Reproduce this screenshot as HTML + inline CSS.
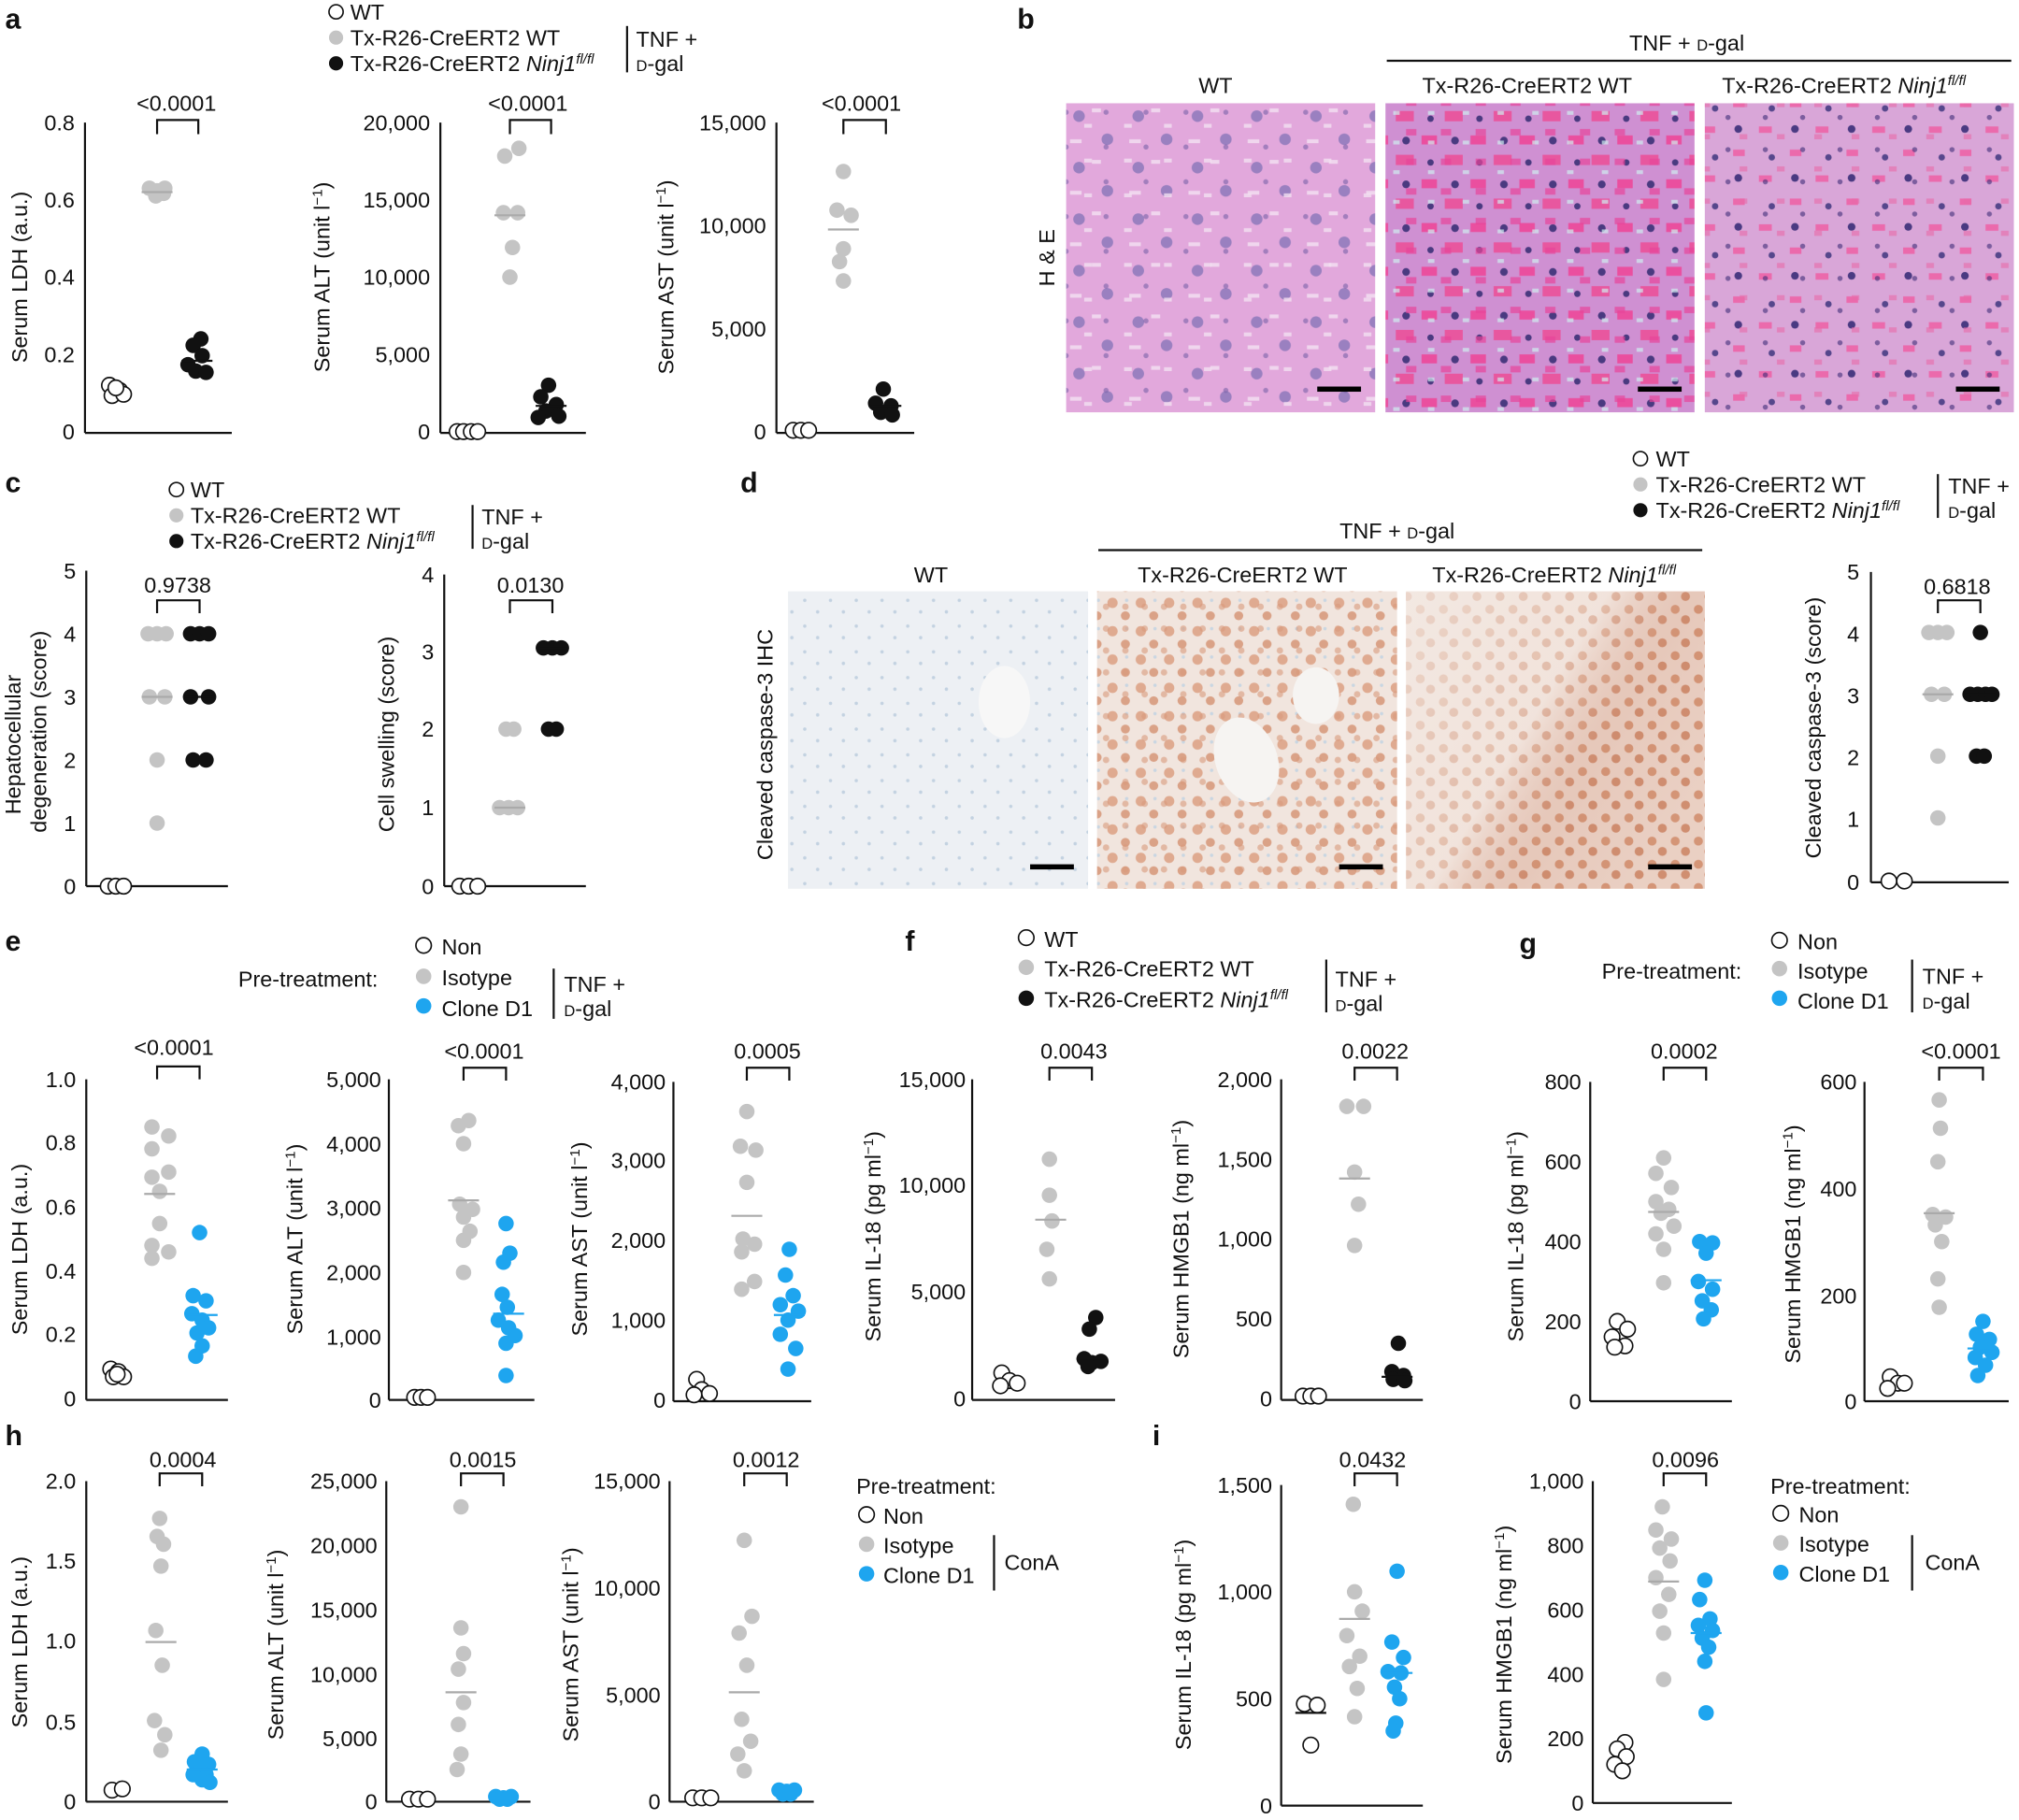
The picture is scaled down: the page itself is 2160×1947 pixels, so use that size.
<!DOCTYPE html>
<html><head><meta charset="utf-8"><style>
html,body{margin:0;padding:0;background:#fff}
svg{display:block}
text{font-family:"Liberation Sans",Arial,sans-serif;fill:#111}
.t{font-size:17px}
.l{font-size:17px}
.p{font-size:17px}
.b{font-size:22px;font-weight:bold}
.ax{stroke:#111;stroke-width:1.6;fill:none}
.o{fill:#fff;stroke:#111;stroke-width:1.2}
.g{fill:#c4c4c4}
.k{fill:#111}
.u{fill:#1ea5ef}
.mg{stroke:#aaa;stroke-width:1.6}
.mk{stroke:#111;stroke-width:1.6}
.mu{stroke:#1ea5ef;stroke-width:1.6}
.sm{font-size:12px}
</style></head><body>
<svg width="2160" height="1947" viewBox="0 0 1568 1413" xmlns="http://www.w3.org/2000/svg">
<defs>
<pattern id="he1" width="46" height="40" patternUnits="userSpaceOnUse">
<rect width="46" height="40" fill="#e2a8dc"/>
<circle cx="10" cy="10" r="4.5" fill="#9a80c0"/><circle cx="32" cy="28" r="4.5" fill="#9a80c0"/>
<rect x="20" y="4" width="7" height="3" fill="#f0d6ee"/><rect x="3" y="28" width="9" height="3" fill="#f0d6ee"/>
</pattern>
<pattern id="he1b" width="31" height="27" patternUnits="userSpaceOnUse">
<rect x="5" y="15" width="6" height="3" fill="#f3e0f1" opacity="0.8"/><circle cx="22" cy="6" r="2" fill="#7a62a8" opacity="0.6"/>
</pattern>
<pattern id="he2" width="38" height="34" patternUnits="userSpaceOnUse">
<rect width="38" height="34" fill="#cf90d2"/>
<rect x="2" y="3" width="12" height="7" fill="#ea4f9f"/><rect x="20" y="18" width="14" height="8" fill="#e8579f"/>
<circle cx="28" cy="7" r="3" fill="#4a3a80"/><circle cx="9" cy="24" r="2.5" fill="#4a3a80"/>
</pattern>
<pattern id="he2b" width="27" height="23" patternUnits="userSpaceOnUse">
<rect x="12" y="8" width="8" height="5" fill="#e8449a" opacity="0.7"/><rect x="2" y="17" width="5" height="3" fill="#cfeef0" opacity="0.7"/>
</pattern>
<pattern id="he3" width="44" height="38" patternUnits="userSpaceOnUse">
<rect width="44" height="38" fill="#d9a6d8"/>
<rect x="2" y="22" width="10" height="5" fill="#eb6aac"/><rect x="26" y="2" width="9" height="5" fill="#eb6aac"/>
<circle cx="30" cy="24" r="3" fill="#4a3a82"/><circle cx="12" cy="8" r="2.5" fill="#56478c"/>
</pattern>
<pattern id="he3b" width="29" height="25" patternUnits="userSpaceOnUse">
<circle cx="8" cy="16" r="2" fill="#3d2d78" opacity="0.6"/><rect x="17" y="4" width="6" height="4" fill="#e86aa8" opacity="0.6"/>
</pattern>
<pattern id="c1" width="20" height="20" patternUnits="userSpaceOnUse">
<rect width="20" height="20" fill="#edf0f4"/><circle cx="5" cy="6" r="1.3" fill="#c3d2e1"/><circle cx="15" cy="15" r="1.3" fill="#c3d2e1"/>
</pattern>
<pattern id="c2" width="22" height="22" patternUnits="userSpaceOnUse">
<rect width="22" height="22" fill="#f1e5de"/><circle cx="6" cy="6" r="4" fill="#dca083" opacity="0.85"/><circle cx="16" cy="16" r="3.5" fill="#d69678" opacity="0.85"/><circle cx="17" cy="4" r="1.3" fill="#c9d6e2"/>
</pattern>
<pattern id="c2b" width="15" height="17" patternUnits="userSpaceOnUse">
<circle cx="4" cy="12" r="2.5" fill="#d89a7c" opacity="0.6"/>
</pattern>
<pattern id="c3" width="18" height="18" patternUnits="userSpaceOnUse">
<rect width="18" height="18" fill="#efdcd2"/><circle cx="5" cy="5" r="3.5" fill="#d3906e" opacity="0.85"/><circle cx="13" cy="13" r="3.5" fill="#cd8666" opacity="0.85"/>
</pattern>
<linearGradient id="dk" x1="0" y1="0" x2="1" y2="0.6">
<stop offset="0" stop-color="#f4ece7" stop-opacity="0.75"/>
<stop offset="0.5" stop-color="#f4ece7" stop-opacity="0.45"/>
<stop offset="0.75" stop-color="#b8603e" stop-opacity="0.15"/>
<stop offset="1" stop-color="#b8603e" stop-opacity="0.1"/>
</linearGradient>
</defs>

<!-- Panel labels -->
<text class="b" x="4" y="22">a</text>
<text class="b" x="790" y="22">b</text>
<text class="b" x="4" y="382">c</text>
<text class="b" x="575" y="382">d</text>
<text class="b" x="4" y="738">e</text>
<text class="b" x="703" y="738">f</text>
<text class="b" x="1180" y="740">g</text>
<text class="b" x="4" y="1122">h</text>
<text class="b" x="895" y="1122">i</text>

<!-- Legend a -->
<circle class="o" cx="261" cy="9" r="5.5"/><text class="l" x="272" y="15">WT</text>
<circle class="g" cx="261" cy="29" r="5.5"/><text class="l" x="272" y="35">Tx-R26-CreERT2 WT</text>
<circle class="k" cx="261" cy="49" r="5.5"/><text class="l" x="272" y="55">Tx-R26-CreERT2 <tspan font-style="italic">Ninj1</tspan><tspan font-style="italic" font-size="11" dy="-6">fl/fl</tspan></text>
<line class="ax" x1="487" y1="20" x2="487" y2="56"/>
<text class="l" x="494" y="36">TNF +</text><text class="l" x="494" y="55"><tspan class="sm">D</tspan>-gal</text>

<!-- a1 -->
<g>
<line class="ax" x1="66" y1="95" x2="66" y2="336"/><line class="ax" x1="66" y1="336" x2="180" y2="336"/>
<text class="t" x="58" y="101" text-anchor="end">0.8</text><text class="t" x="58" y="161" text-anchor="end">0.6</text><text class="t" x="58" y="221" text-anchor="end">0.4</text><text class="t" x="58" y="281" text-anchor="end">0.2</text><text class="t" x="58" y="341" text-anchor="end">0</text>
<text class="l" transform="translate(21,215) rotate(-90)" text-anchor="middle">Serum LDH (a.u.)</text>
<path class="ax" d="M122,104 V93 H154 V104"/><text class="p" x="137" y="86" text-anchor="middle">&lt;0.0001</text>
<circle class="o" cx="85" cy="299" r="6"/><circle class="o" cx="93" cy="303" r="6"/><circle class="o" cx="87" cy="307" r="6"/><circle class="o" cx="96" cy="306" r="6"/><circle class="o" cx="90" cy="301" r="6"/>
<circle class="g" cx="116" cy="146" r="6"/><circle class="g" cx="122" cy="148" r="6"/><circle class="g" cx="127" cy="150" r="6"/><circle class="g" cx="121" cy="152" r="6"/><circle class="g" cx="128" cy="146" r="6"/>
<line class="mg" x1="110" y1="149" x2="134" y2="149"/>
<circle class="k" cx="156" cy="263" r="6"/><circle class="k" cx="150" cy="268" r="6"/><circle class="k" cx="157" cy="276" r="6"/><circle class="k" cx="146" cy="283" r="6"/><circle class="k" cx="152" cy="288" r="6"/><circle class="k" cx="160" cy="289" r="6"/>
<line class="mk" x1="141" y1="280" x2="165" y2="280"/>
</g>

<!-- a2 -->
<g>
<line class="ax" x1="342" y1="95" x2="342" y2="336"/><line class="ax" x1="342" y1="336" x2="455" y2="336"/>
<text class="t" x="334" y="101" text-anchor="end">20,000</text><text class="t" x="334" y="161" text-anchor="end">15,000</text><text class="t" x="334" y="221" text-anchor="end">10,000</text><text class="t" x="334" y="281" text-anchor="end">5,000</text><text class="t" x="334" y="341" text-anchor="end">0</text>
<text class="l" transform="translate(256,215) rotate(-90)" text-anchor="middle">Serum ALT (unit l<tspan font-size="11" dy="-6">−1</tspan><tspan dy="6">)</tspan></text>
<path class="ax" d="M396,104 V93 H428 V104"/><text class="p" x="410" y="86" text-anchor="middle">&lt;0.0001</text>
<circle class="o" cx="355" cy="335" r="6"/><circle class="o" cx="360" cy="335" r="6"/><circle class="o" cx="366" cy="335" r="6"/><circle class="o" cx="371" cy="335" r="6"/>
<circle class="g" cx="392" cy="121" r="6"/><circle class="g" cx="403" cy="115" r="6"/><circle class="g" cx="391" cy="165" r="6"/><circle class="g" cx="402" cy="165" r="6"/><circle class="g" cx="398" cy="192" r="6"/><circle class="g" cx="396" cy="215" r="6"/>
<line class="mg" x1="384" y1="167" x2="408" y2="167"/>
<circle class="k" cx="426" cy="299" r="6"/><circle class="k" cx="420" cy="308" r="6"/><circle class="k" cx="432" cy="314" r="6"/><circle class="k" cx="424" cy="319" r="6"/><circle class="k" cx="434" cy="323" r="6"/><circle class="k" cx="418" cy="324" r="6"/>
<line class="mk" x1="416" y1="315" x2="440" y2="315"/>
</g>

<!-- a3 -->
<g>
<line class="ax" x1="603" y1="95" x2="603" y2="336"/><line class="ax" x1="603" y1="336" x2="710" y2="336"/>
<text class="t" x="595" y="101" text-anchor="end">15,000</text><text class="t" x="595" y="181" text-anchor="end">10,000</text><text class="t" x="595" y="261" text-anchor="end">5,000</text><text class="t" x="595" y="341" text-anchor="end">0</text>
<text class="l" transform="translate(523,215) rotate(-90)" text-anchor="middle">Serum AST (unit l<tspan font-size="11" dy="-6">−1</tspan><tspan dy="6">)</tspan></text>
<path class="ax" d="M655,104 V93 H688 V104"/><text class="p" x="669" y="86" text-anchor="middle">&lt;0.0001</text>
<circle class="o" cx="616" cy="334" r="6"/><circle class="o" cx="622" cy="334" r="6"/><circle class="o" cx="628" cy="334" r="6"/>
<circle class="g" cx="655" cy="133" r="6"/><circle class="g" cx="650" cy="163" r="6"/><circle class="g" cx="661" cy="167" r="6"/><circle class="g" cx="655" cy="193" r="6"/><circle class="g" cx="652" cy="203" r="6"/><circle class="g" cx="655" cy="218" r="6"/>
<line class="mg" x1="643" y1="178" x2="667" y2="178"/>
<circle class="k" cx="686" cy="302" r="6"/><circle class="k" cx="680" cy="313" r="6"/><circle class="k" cx="692" cy="315" r="6"/><circle class="k" cx="684" cy="320" r="6"/><circle class="k" cx="693" cy="322" r="6"/>
<line class="mk" x1="676" y1="315" x2="700" y2="315"/>
</g>

<!-- b -->
<text class="l" x="1310" y="39" text-anchor="middle">TNF + <tspan class="sm">D</tspan>-gal</text>
<line class="ax" x1="1077" y1="47" x2="1562" y2="47"/>
<text class="l" x="944" y="72" text-anchor="middle">WT</text>
<text class="l" x="1186" y="72" text-anchor="middle">Tx-R26-CreERT2 WT</text>
<text class="l" x="1432" y="72" text-anchor="middle">Tx-R26-CreERT2 <tspan font-style="italic">Ninj1</tspan><tspan font-style="italic" font-size="11" dy="-6">fl/fl</tspan></text>
<rect x="828" y="80" width="240" height="240" fill="url(#he1)"/><rect x="828" y="80" width="240" height="240" fill="url(#he1b)"/>
<rect x="1076" y="80" width="240" height="240" fill="url(#he2)"/><rect x="1076" y="80" width="240" height="240" fill="url(#he2b)"/>
<rect x="1324" y="80" width="240" height="240" fill="url(#he3)"/><rect x="1324" y="80" width="240" height="240" fill="url(#he3b)"/>
<rect x="1023" y="300" width="34" height="4" fill="#000"/><rect x="1272" y="300" width="34" height="4" fill="#000"/><rect x="1519" y="300" width="34" height="4" fill="#000"/>
<text class="l" transform="translate(819,200) rotate(-90)" text-anchor="middle">H &amp; E</text>

<!-- Legend c -->
<circle class="o" cx="137" cy="380" r="5.5"/><text class="l" x="148" y="386">WT</text>
<circle class="g" cx="137" cy="400" r="5.5"/><text class="l" x="148" y="406">Tx-R26-CreERT2 WT</text>
<circle class="k" cx="137" cy="420" r="5.5"/><text class="l" x="148" y="426">Tx-R26-CreERT2 <tspan font-style="italic">Ninj1</tspan><tspan font-style="italic" font-size="11" dy="-6">fl/fl</tspan></text>
<line class="ax" x1="367" y1="392" x2="367" y2="426"/>
<text class="l" x="374" y="407">TNF +</text><text class="l" x="374" y="426"><tspan class="sm">D</tspan>-gal</text>

<!-- c1 -->
<g>
<line class="ax" x1="67" y1="443" x2="67" y2="688"/><line class="ax" x1="67" y1="688" x2="177" y2="688"/>
<text class="t" x="59" y="449" text-anchor="end">5</text><text class="t" x="59" y="498" text-anchor="end">4</text><text class="t" x="59" y="547" text-anchor="end">3</text><text class="t" x="59" y="596" text-anchor="end">2</text><text class="t" x="59" y="645" text-anchor="end">1</text><text class="t" x="59" y="694" text-anchor="end">0</text>
<text class="l" transform="translate(16,578) rotate(-90)" text-anchor="middle">Hepatocellular</text>
<text class="l" transform="translate(36,568) rotate(-90)" text-anchor="middle">degeneration (score)</text>
<path class="ax" d="M122,476 V466 H155 V476"/><text class="p" x="138" y="460" text-anchor="middle">0.9738</text>
<circle class="o" cx="84" cy="688" r="6"/><circle class="o" cx="90" cy="688" r="6"/><circle class="o" cx="96" cy="688" r="6"/>
<circle class="g" cx="115" cy="492" r="6"/><circle class="g" cx="122" cy="492" r="6"/><circle class="g" cx="129" cy="492" r="6"/><circle class="g" cx="116" cy="541" r="6"/><circle class="g" cx="128" cy="541" r="6"/><circle class="g" cx="122" cy="590" r="6"/><circle class="g" cx="122" cy="639" r="6"/>
<line class="mg" x1="110" y1="541" x2="134" y2="541"/>
<circle class="k" cx="148" cy="492" r="6"/><circle class="k" cx="155" cy="492" r="6"/><circle class="k" cx="162" cy="492" r="6"/><circle class="k" cx="148" cy="541" r="6"/><circle class="k" cx="162" cy="541" r="6"/><circle class="k" cx="150" cy="590" r="6"/><circle class="k" cx="160" cy="590" r="6"/>
<line class="mk" x1="143" y1="541" x2="167" y2="541"/>
</g>

<!-- c2 -->
<g>
<line class="ax" x1="345" y1="446" x2="345" y2="688"/><line class="ax" x1="345" y1="688" x2="455" y2="688"/>
<text class="t" x="337" y="452" text-anchor="end">4</text><text class="t" x="337" y="512" text-anchor="end">3</text><text class="t" x="337" y="572" text-anchor="end">2</text><text class="t" x="337" y="633" text-anchor="end">1</text><text class="t" x="337" y="694" text-anchor="end">0</text>
<text class="l" transform="translate(306,570) rotate(-90)" text-anchor="middle">Cell swelling (score)</text>
<path class="ax" d="M396,476 V466 H429 V476"/><text class="p" x="412" y="460" text-anchor="middle">0.0130</text>
<circle class="o" cx="357" cy="688" r="6"/><circle class="o" cx="364" cy="688" r="6"/><circle class="o" cx="371" cy="688" r="6"/>
<circle class="g" cx="393" cy="566" r="6"/><circle class="g" cx="399" cy="566" r="6"/><circle class="g" cx="388" cy="627" r="6"/><circle class="g" cx="395" cy="627" r="6"/><circle class="g" cx="402" cy="627" r="6"/>
<line class="mg" x1="384" y1="627" x2="408" y2="627"/>
<circle class="k" cx="422" cy="503" r="6"/><circle class="k" cx="429" cy="503" r="6"/><circle class="k" cx="436" cy="503" r="6"/><circle class="k" cx="426" cy="566" r="6"/><circle class="k" cx="432" cy="566" r="6"/>
<line class="mk" x1="417" y1="503" x2="441" y2="503"/>
</g>

<!-- d -->
<text class="l" x="1085" y="418" text-anchor="middle">TNF + <tspan class="sm">D</tspan>-gal</text>
<line class="ax" x1="853" y1="427" x2="1322" y2="427"/>
<text class="l" x="723" y="452" text-anchor="middle">WT</text>
<text class="l" x="965" y="452" text-anchor="middle">Tx-R26-CreERT2 WT</text>
<text class="l" x="1207" y="452" text-anchor="middle">Tx-R26-CreERT2 <tspan font-style="italic">Ninj1</tspan><tspan font-style="italic" font-size="11" dy="-6">fl/fl</tspan></text>
<rect x="612" y="459" width="233" height="231" fill="url(#c1)"/>
<ellipse cx="780" cy="545" rx="20" ry="28" fill="#f7f7f7"/>
<rect x="852" y="459" width="233" height="231" fill="url(#c2)"/><rect x="852" y="459" width="233" height="231" fill="url(#c2b)"/>
<ellipse cx="968" cy="590" rx="24" ry="34" fill="#f6f4f2" transform="rotate(-20 968 590)"/><ellipse cx="1022" cy="540" rx="18" ry="22" fill="#f6f4f2"/>
<rect x="1092" y="459" width="232" height="231" fill="url(#c3)"/>
<rect x="1092" y="459" width="232" height="231" fill="url(#dk)"/>
<rect x="800" y="671" width="34" height="4" fill="#000"/><rect x="1040" y="671" width="34" height="4" fill="#000"/><rect x="1280" y="671" width="34" height="4" fill="#000"/>
<text class="l" transform="translate(600,578) rotate(-90)" text-anchor="middle">Cleaved caspase-3 IHC</text>

<circle class="o" cx="1274" cy="356" r="5.5"/><text class="l" x="1286" y="362">WT</text>
<circle class="g" cx="1274" cy="376" r="5.5"/><text class="l" x="1286" y="382">Tx-R26-CreERT2 WT</text>
<circle class="k" cx="1274" cy="396" r="5.5"/><text class="l" x="1286" y="402">Tx-R26-CreERT2 <tspan font-style="italic">Ninj1</tspan><tspan font-style="italic" font-size="11" dy="-6">fl/fl</tspan></text>
<line class="ax" x1="1505" y1="368" x2="1505" y2="402"/>
<text class="l" x="1513" y="383">TNF +</text><text class="l" x="1513" y="402"><tspan class="sm">D</tspan>-gal</text>

<g>
<line class="ax" x1="1453" y1="444" x2="1453" y2="685"/><line class="ax" x1="1453" y1="685" x2="1560" y2="685"/>
<text class="t" x="1444" y="450" text-anchor="end">5</text><text class="t" x="1444" y="498" text-anchor="end">4</text><text class="t" x="1444" y="546" text-anchor="end">3</text><text class="t" x="1444" y="594" text-anchor="end">2</text><text class="t" x="1444" y="642" text-anchor="end">1</text><text class="t" x="1444" y="691" text-anchor="end">0</text>
<text class="l" transform="translate(1414,565) rotate(-90)" text-anchor="middle">Cleaved caspase-3 (score)</text>
<path class="ax" d="M1505,476 V466 H1538 V476"/><text class="p" x="1520" y="461" text-anchor="middle">0.6818</text>
<circle class="o" cx="1467" cy="684" r="6"/><circle class="o" cx="1479" cy="684" r="6"/>
<circle class="g" cx="1498" cy="491" r="6"/><circle class="g" cx="1505" cy="491" r="6"/><circle class="g" cx="1512" cy="491" r="6"/><circle class="g" cx="1500" cy="539" r="6"/><circle class="g" cx="1510" cy="539" r="6"/><circle class="g" cx="1505" cy="587" r="6"/><circle class="g" cx="1505" cy="635" r="6"/>
<line class="mg" x1="1493" y1="539" x2="1517" y2="539"/>
<circle class="k" cx="1538" cy="491" r="6"/><circle class="k" cx="1530" cy="539" r="6"/><circle class="k" cx="1536" cy="539" r="6"/><circle class="k" cx="1542" cy="539" r="6"/><circle class="k" cx="1547" cy="539" r="6"/><circle class="k" cx="1535" cy="587" r="6"/><circle class="k" cx="1541" cy="587" r="6"/>
<line class="mk" x1="1526" y1="539" x2="1550" y2="539"/>
</g>

<!-- Legend e -->
<text class="l" x="185" y="766">Pre-treatment:</text>
<circle class="o" cx="329" cy="734" r="6"/><text class="l" x="343" y="741">Non</text>
<circle class="g" cx="329" cy="758" r="6"/><text class="l" x="343" y="765">Isotype</text>
<circle class="u" cx="329" cy="781" r="6"/><text class="l" x="343" y="789">Clone D1</text>
<line class="ax" x1="430" y1="752" x2="430" y2="791"/>
<text class="l" x="438" y="770">TNF +</text><text class="l" x="438" y="789"><tspan class="sm">D</tspan>-gal</text>

<!-- e1 -->
<g>
<line class="ax" x1="67" y1="838" x2="67" y2="1087"/><line class="ax" x1="67" y1="1087" x2="177" y2="1087"/>
<text class="t" x="59" y="844" text-anchor="end">1.0</text><text class="t" x="59" y="893" text-anchor="end">0.8</text><text class="t" x="59" y="943" text-anchor="end">0.6</text><text class="t" x="59" y="993" text-anchor="end">0.4</text><text class="t" x="59" y="1042" text-anchor="end">0.2</text><text class="t" x="59" y="1092" text-anchor="end">0</text>
<text class="l" transform="translate(21,970) rotate(-90)" text-anchor="middle">Serum LDH (a.u.)</text>
<path class="ax" d="M122,838 V828 H155 V838"/><text class="p" x="135" y="819" text-anchor="middle">&lt;0.0001</text>
<circle class="o" cx="86" cy="1063" r="6"/><circle class="o" cx="92" cy="1065" r="6"/><circle class="o" cx="88" cy="1069" r="6"/><circle class="o" cx="96" cy="1069" r="6"/><circle class="o" cx="91" cy="1067" r="6"/>
<circle class="g" cx="118" cy="875" r="6"/><circle class="g" cx="131" cy="882" r="6"/><circle class="g" cx="118" cy="892" r="6"/><circle class="g" cx="131" cy="910" r="6"/><circle class="g" cx="118" cy="914" r="6"/><circle class="g" cx="124" cy="925" r="6"/><circle class="g" cx="124" cy="950" r="6"/><circle class="g" cx="118" cy="967" r="6"/><circle class="g" cx="131" cy="972" r="6"/><circle class="g" cx="118" cy="977" r="6"/>
<line class="mg" x1="112" y1="927" x2="136" y2="927"/>
<circle class="u" cx="155" cy="957" r="6"/><circle class="u" cx="150" cy="1006" r="6"/><circle class="u" cx="160" cy="1010" r="6"/><circle class="u" cx="149" cy="1020" r="6"/><circle class="u" cx="157" cy="1025" r="6"/><circle class="u" cx="162" cy="1031" r="6"/><circle class="u" cx="153" cy="1035" r="6"/><circle class="u" cx="157" cy="1045" r="6"/><circle class="u" cx="152" cy="1053" r="6"/>
<line class="mu" x1="145" y1="1021" x2="169" y2="1021"/>
</g>

<!-- e2 -->
<g>
<line class="ax" x1="302" y1="838" x2="302" y2="1087"/><line class="ax" x1="302" y1="1087" x2="415" y2="1087"/>
<text class="t" x="296" y="844" text-anchor="end">5,000</text><text class="t" x="296" y="894" text-anchor="end">4,000</text><text class="t" x="296" y="944" text-anchor="end">3,000</text><text class="t" x="296" y="994" text-anchor="end">2,000</text><text class="t" x="296" y="1044" text-anchor="end">1,000</text><text class="t" x="296" y="1093" text-anchor="end">0</text>
<text class="l" transform="translate(235,962) rotate(-90)" text-anchor="middle">Serum ALT (unit l<tspan font-size="11" dy="-6">−1</tspan><tspan dy="6">)</tspan></text>
<path class="ax" d="M360,839 V829 H393 V839"/><text class="p" x="376" y="822" text-anchor="middle">&lt;0.0001</text>
<circle class="o" cx="322" cy="1085" r="6"/><circle class="o" cx="327" cy="1085" r="6"/><circle class="o" cx="332" cy="1085" r="6"/>
<circle class="g" cx="356" cy="874" r="6"/><circle class="g" cx="364" cy="870" r="6"/><circle class="g" cx="360" cy="888" r="6"/><circle class="g" cx="357" cy="935" r="6"/><circle class="g" cx="367" cy="939" r="6"/><circle class="g" cx="360" cy="945" r="6"/><circle class="g" cx="365" cy="956" r="6"/><circle class="g" cx="360" cy="963" r="6"/><circle class="g" cx="360" cy="988" r="6"/>
<line class="mg" x1="348" y1="932" x2="372" y2="932"/>
<circle class="u" cx="393" cy="950" r="6"/><circle class="u" cx="396" cy="973" r="6"/><circle class="u" cx="391" cy="980" r="6"/><circle class="u" cx="390" cy="1005" r="6"/><circle class="u" cx="394" cy="1015" r="6"/><circle class="u" cx="387" cy="1025" r="6"/><circle class="u" cx="395" cy="1031" r="6"/><circle class="u" cx="400" cy="1037" r="6"/><circle class="u" cx="393" cy="1043" r="6"/><circle class="u" cx="393" cy="1068" r="6"/>
<line class="mu" x1="383" y1="1020" x2="407" y2="1020"/>
</g>

<!-- e3 -->
<g>
<line class="ax" x1="523" y1="840" x2="523" y2="1088"/><line class="ax" x1="523" y1="1088" x2="630" y2="1088"/>
<text class="t" x="517" y="846" text-anchor="end">4,000</text><text class="t" x="517" y="907" text-anchor="end">3,000</text><text class="t" x="517" y="969" text-anchor="end">2,000</text><text class="t" x="517" y="1031" text-anchor="end">1,000</text><text class="t" x="517" y="1093" text-anchor="end">0</text>
<text class="l" transform="translate(456,962) rotate(-90)" text-anchor="middle">Serum AST (unit l<tspan font-size="11" dy="-6">−1</tspan><tspan dy="6">)</tspan></text>
<path class="ax" d="M580,839 V829 H613 V839"/><text class="p" x="596" y="822" text-anchor="middle">0.0005</text>
<circle class="o" cx="541" cy="1071" r="6"/><circle class="o" cx="545" cy="1079" r="6"/><circle class="o" cx="551" cy="1082" r="6"/><circle class="o" cx="539" cy="1083" r="6"/>
<circle class="g" cx="580" cy="863" r="6"/><circle class="g" cx="575" cy="890" r="6"/><circle class="g" cx="587" cy="893" r="6"/><circle class="g" cx="580" cy="918" r="6"/><circle class="g" cx="577" cy="962" r="6"/><circle class="g" cx="586" cy="966" r="6"/><circle class="g" cx="576" cy="972" r="6"/><circle class="g" cx="586" cy="995" r="6"/><circle class="g" cx="576" cy="1001" r="6"/>
<line class="mg" x1="568" y1="944" x2="592" y2="944"/>
<circle class="u" cx="613" cy="970" r="6"/><circle class="u" cx="610" cy="990" r="6"/><circle class="u" cx="616" cy="1006" r="6"/><circle class="u" cx="606" cy="1013" r="6"/><circle class="u" cx="620" cy="1018" r="6"/><circle class="u" cx="612" cy="1025" r="6"/><circle class="u" cx="606" cy="1036" r="6"/><circle class="u" cx="618" cy="1047" r="6"/><circle class="u" cx="612" cy="1063" r="6"/>
<line class="mu" x1="601" y1="1021" x2="625" y2="1021"/>
</g>

<!-- Legend f -->
<circle class="o" cx="797" cy="728" r="6"/><text class="l" x="811" y="735">WT</text>
<circle class="g" cx="797" cy="751" r="6"/><text class="l" x="811" y="758">Tx-R26-CreERT2 WT</text>
<circle class="k" cx="797" cy="775" r="6"/><text class="l" x="811" y="782">Tx-R26-CreERT2 <tspan font-style="italic">Ninj1</tspan><tspan font-style="italic" font-size="11" dy="-6">fl/fl</tspan></text>
<line class="ax" x1="1030" y1="745" x2="1030" y2="786"/>
<text class="l" x="1037" y="766">TNF +</text><text class="l" x="1037" y="785"><tspan class="sm">D</tspan>-gal</text>

<!-- f1 -->
<g>
<line class="ax" x1="755" y1="838" x2="755" y2="1087"/><line class="ax" x1="755" y1="1087" x2="866" y2="1087"/>
<text class="t" x="750" y="844" text-anchor="end">15,000</text><text class="t" x="750" y="926" text-anchor="end">10,000</text><text class="t" x="750" y="1009" text-anchor="end">5,000</text><text class="t" x="750" y="1092" text-anchor="end">0</text>
<text class="l" transform="translate(684,960) rotate(-90)" text-anchor="middle">Serum IL-18 (pg ml<tspan font-size="11" dy="-6">−1</tspan><tspan dy="6">)</tspan></text>
<path class="ax" d="M815,839 V829 H848 V839"/><text class="p" x="834" y="822" text-anchor="middle">0.0043</text>
<circle class="o" cx="778" cy="1066" r="6"/><circle class="o" cx="784" cy="1072" r="6"/><circle class="o" cx="777" cy="1076" r="6"/><circle class="o" cx="790" cy="1074" r="6"/>
<circle class="g" cx="815" cy="900" r="6"/><circle class="g" cx="815" cy="928" r="6"/><circle class="g" cx="817" cy="948" r="6"/><circle class="g" cx="813" cy="970" r="6"/><circle class="g" cx="815" cy="993" r="6"/>
<line class="mg" x1="804" y1="947" x2="828" y2="947"/>
<circle class="k" cx="851" cy="1023" r="6"/><circle class="k" cx="846" cy="1032" r="6"/><circle class="k" cx="842" cy="1055" r="6"/><circle class="k" cx="848" cy="1058" r="6"/><circle class="k" cx="855" cy="1057" r="6"/><circle class="k" cx="845" cy="1061" r="6"/>
<line class="mk" x1="836" y1="1055" x2="860" y2="1055"/>
</g>

<!-- f2 -->
<g>
<line class="ax" x1="995" y1="838" x2="995" y2="1087"/><line class="ax" x1="995" y1="1087" x2="1105" y2="1087"/>
<text class="t" x="988" y="844" text-anchor="end">2,000</text><text class="t" x="988" y="906" text-anchor="end">1,500</text><text class="t" x="988" y="968" text-anchor="end">1,000</text><text class="t" x="988" y="1030" text-anchor="end">500</text><text class="t" x="988" y="1092" text-anchor="end">0</text>
<text class="l" transform="translate(923,962) rotate(-90)" text-anchor="middle">Serum HMGB1 (ng ml<tspan font-size="11" dy="-6">−1</tspan><tspan dy="6">)</tspan></text>
<path class="ax" d="M1052,839 V829 H1085 V839"/><text class="p" x="1068" y="822" text-anchor="middle">0.0022</text>
<circle class="o" cx="1012" cy="1084" r="6"/><circle class="o" cx="1018" cy="1084" r="6"/><circle class="o" cx="1024" cy="1084" r="6"/>
<circle class="g" cx="1046" cy="859" r="6"/><circle class="g" cx="1059" cy="859" r="6"/><circle class="g" cx="1052" cy="910" r="6"/><circle class="g" cx="1055" cy="935" r="6"/><circle class="g" cx="1052" cy="967" r="6"/>
<line class="mg" x1="1040" y1="915" x2="1064" y2="915"/>
<circle class="k" cx="1086" cy="1043" r="6"/><circle class="k" cx="1081" cy="1065" r="6"/><circle class="k" cx="1090" cy="1068" r="6"/><circle class="k" cx="1082" cy="1071" r="6"/><circle class="k" cx="1091" cy="1072" r="6"/>
<line class="mk" x1="1073" y1="1069" x2="1097" y2="1069"/>
</g>

<!-- Legend g -->
<text class="l" x="1244" y="760">Pre-treatment:</text>
<circle class="o" cx="1382" cy="730" r="6"/><text class="l" x="1396" y="737">Non</text>
<circle class="g" cx="1382" cy="752" r="6"/><text class="l" x="1396" y="760">Isotype</text>
<circle class="u" cx="1382" cy="775" r="6"/><text class="l" x="1396" y="783">Clone D1</text>
<line class="ax" x1="1485" y1="745" x2="1485" y2="786"/>
<text class="l" x="1493" y="764">TNF +</text><text class="l" x="1493" y="783"><tspan class="sm">D</tspan>-gal</text>

<!-- g1 -->
<g>
<line class="ax" x1="1235" y1="840" x2="1235" y2="1088"/><line class="ax" x1="1235" y1="1088" x2="1345" y2="1088"/>
<text class="t" x="1228" y="846" text-anchor="end">800</text><text class="t" x="1228" y="908" text-anchor="end">600</text><text class="t" x="1228" y="970" text-anchor="end">400</text><text class="t" x="1228" y="1032" text-anchor="end">200</text><text class="t" x="1228" y="1094" text-anchor="end">0</text>
<text class="l" transform="translate(1183,960) rotate(-90)" text-anchor="middle">Serum IL-18 (pg ml<tspan font-size="11" dy="-6">−1</tspan><tspan dy="6">)</tspan></text>
<path class="ax" d="M1292,839 V829 H1325 V839"/><text class="p" x="1308" y="822" text-anchor="middle">0.0002</text>
<circle class="o" cx="1256" cy="1026" r="6"/><circle class="o" cx="1264" cy="1032" r="6"/><circle class="o" cx="1252" cy="1038" r="6"/><circle class="o" cx="1262" cy="1045" r="6"/><circle class="o" cx="1254" cy="1046" r="6"/>
<circle class="g" cx="1292" cy="899" r="6"/><circle class="g" cx="1286" cy="911" r="6"/><circle class="g" cx="1298" cy="922" r="6"/><circle class="g" cx="1286" cy="933" r="6"/><circle class="g" cx="1296" cy="939" r="6"/><circle class="g" cx="1290" cy="942" r="6"/><circle class="g" cx="1300" cy="952" r="6"/><circle class="g" cx="1286" cy="958" r="6"/><circle class="g" cx="1292" cy="970" r="6"/><circle class="g" cx="1292" cy="996" r="6"/>
<line class="mg" x1="1280" y1="941" x2="1304" y2="941"/>
<circle class="u" cx="1320" cy="964" r="6"/><circle class="u" cx="1330" cy="965" r="6"/><circle class="u" cx="1325" cy="973" r="6"/><circle class="u" cx="1319" cy="995" r="6"/><circle class="u" cx="1330" cy="1001" r="6"/><circle class="u" cx="1322" cy="1010" r="6"/><circle class="u" cx="1329" cy="1017" r="6"/><circle class="u" cx="1323" cy="1024" r="6"/>
<line class="mu" x1="1313" y1="994" x2="1337" y2="994"/>
</g>

<!-- g2 -->
<g>
<line class="ax" x1="1448" y1="840" x2="1448" y2="1088"/><line class="ax" x1="1448" y1="1088" x2="1560" y2="1088"/>
<text class="t" x="1442" y="846" text-anchor="end">600</text><text class="t" x="1442" y="929" text-anchor="end">400</text><text class="t" x="1442" y="1012" text-anchor="end">200</text><text class="t" x="1442" y="1094" text-anchor="end">0</text>
<text class="l" transform="translate(1398,966) rotate(-90)" text-anchor="middle">Serum HMGB1 (ng ml<tspan font-size="11" dy="-6">−1</tspan><tspan dy="6">)</tspan></text>
<path class="ax" d="M1506,839 V829 H1540 V839"/><text class="p" x="1523" y="822" text-anchor="middle">&lt;0.0001</text>
<circle class="o" cx="1468" cy="1069" r="6"/><circle class="o" cx="1474" cy="1074" r="6"/><circle class="o" cx="1466" cy="1078" r="6"/><circle class="o" cx="1479" cy="1074" r="6"/>
<circle class="g" cx="1506" cy="854" r="6"/><circle class="g" cx="1507" cy="876" r="6"/><circle class="g" cx="1505" cy="902" r="6"/><circle class="g" cx="1501" cy="943" r="6"/><circle class="g" cx="1511" cy="945" r="6"/><circle class="g" cx="1503" cy="951" r="6"/><circle class="g" cx="1508" cy="964" r="6"/><circle class="g" cx="1505" cy="993" r="6"/><circle class="g" cx="1506" cy="1015" r="6"/>
<line class="mg" x1="1494" y1="942" x2="1518" y2="942"/>
<circle class="u" cx="1540" cy="1026" r="6"/><circle class="u" cx="1535" cy="1036" r="6"/><circle class="u" cx="1545" cy="1040" r="6"/><circle class="u" cx="1538" cy="1046" r="6"/><circle class="u" cx="1547" cy="1050" r="6"/><circle class="u" cx="1534" cy="1054" r="6"/><circle class="u" cx="1542" cy="1060" r="6"/><circle class="u" cx="1536" cy="1068" r="6"/>
<line class="mu" x1="1528" y1="1047" x2="1552" y2="1047"/>
</g>

<!-- h1 -->
<g>
<line class="ax" x1="67" y1="1150" x2="67" y2="1399"/><line class="ax" x1="67" y1="1399" x2="177" y2="1399"/>
<text class="t" x="59" y="1156" text-anchor="end">2.0</text><text class="t" x="59" y="1218" text-anchor="end">1.5</text><text class="t" x="59" y="1280" text-anchor="end">1.0</text><text class="t" x="59" y="1343" text-anchor="end">0.5</text><text class="t" x="59" y="1405" text-anchor="end">0</text>
<text class="l" transform="translate(21,1275) rotate(-90)" text-anchor="middle">Serum LDH (a.u.)</text>
<path class="ax" d="M124,1154 V1144 H157 V1154"/><text class="p" x="142" y="1139" text-anchor="middle">0.0004</text>
<circle class="o" cx="87" cy="1390" r="6"/><circle class="o" cx="95" cy="1389" r="6"/>
<circle class="g" cx="124" cy="1179" r="6"/><circle class="g" cx="122" cy="1193" r="6"/><circle class="g" cx="127" cy="1199" r="6"/><circle class="g" cx="125" cy="1216" r="6"/><circle class="g" cx="121" cy="1266" r="6"/><circle class="g" cx="126" cy="1293" r="6"/><circle class="g" cx="120" cy="1336" r="6"/><circle class="g" cx="128" cy="1347" r="6"/><circle class="g" cx="125" cy="1359" r="6"/>
<line class="mg" x1="113" y1="1275" x2="137" y2="1275"/>
<circle class="u" cx="157" cy="1362" r="6"/><circle class="u" cx="151" cy="1368" r="6"/><circle class="u" cx="162" cy="1370" r="6"/><circle class="u" cx="155" cy="1375" r="6"/><circle class="u" cx="160" cy="1378" r="6"/><circle class="u" cx="150" cy="1378" r="6"/><circle class="u" cx="157" cy="1382" r="6"/><circle class="u" cx="163" cy="1384" r="6"/>
<line class="mu" x1="145" y1="1374" x2="169" y2="1374"/>
</g>

<!-- h2 -->
<g>
<line class="ax" x1="300" y1="1150" x2="300" y2="1399"/><line class="ax" x1="300" y1="1399" x2="412" y2="1399"/>
<text class="t" x="293" y="1156" text-anchor="end">25,000</text><text class="t" x="293" y="1206" text-anchor="end">20,000</text><text class="t" x="293" y="1256" text-anchor="end">15,000</text><text class="t" x="293" y="1306" text-anchor="end">10,000</text><text class="t" x="293" y="1356" text-anchor="end">5,000</text><text class="t" x="293" y="1405" text-anchor="end">0</text>
<text class="l" transform="translate(220,1277) rotate(-90)" text-anchor="middle">Serum ALT (unit l<tspan font-size="11" dy="-6">−1</tspan><tspan dy="6">)</tspan></text>
<path class="ax" d="M358,1154 V1144 H391 V1154"/><text class="p" x="375" y="1139" text-anchor="middle">0.0015</text>
<circle class="o" cx="318" cy="1397" r="6"/><circle class="o" cx="325" cy="1397" r="6"/><circle class="o" cx="332" cy="1397" r="6"/>
<circle class="g" cx="358" cy="1170" r="6"/><circle class="g" cx="358" cy="1264" r="6"/><circle class="g" cx="360" cy="1284" r="6"/><circle class="g" cx="356" cy="1296" r="6"/><circle class="g" cx="360" cy="1322" r="6"/><circle class="g" cx="356" cy="1339" r="6"/><circle class="g" cx="358" cy="1362" r="6"/><circle class="g" cx="355" cy="1374" r="6"/>
<line class="mg" x1="346" y1="1314" x2="370" y2="1314"/>
<circle class="u" cx="385" cy="1395" r="6"/><circle class="u" cx="391" cy="1396" r="6"/><circle class="u" cx="397" cy="1395" r="6"/><circle class="u" cx="388" cy="1397" r="6"/><circle class="u" cx="394" cy="1397" r="6"/>
</g>

<!-- h3 -->
<g>
<line class="ax" x1="520" y1="1150" x2="520" y2="1399"/><line class="ax" x1="520" y1="1399" x2="632" y2="1399"/>
<text class="t" x="513" y="1156" text-anchor="end">15,000</text><text class="t" x="513" y="1239" text-anchor="end">10,000</text><text class="t" x="513" y="1322" text-anchor="end">5,000</text><text class="t" x="513" y="1405" text-anchor="end">0</text>
<text class="l" transform="translate(449,1277) rotate(-90)" text-anchor="middle">Serum AST (unit l<tspan font-size="11" dy="-6">−1</tspan><tspan dy="6">)</tspan></text>
<path class="ax" d="M578,1154 V1144 H611 V1154"/><text class="p" x="595" y="1139" text-anchor="middle">0.0012</text>
<circle class="o" cx="538" cy="1396" r="6"/><circle class="o" cx="545" cy="1396" r="6"/><circle class="o" cx="552" cy="1396" r="6"/>
<circle class="g" cx="578" cy="1196" r="6"/><circle class="g" cx="584" cy="1255" r="6"/><circle class="g" cx="574" cy="1268" r="6"/><circle class="g" cx="580" cy="1293" r="6"/><circle class="g" cx="576" cy="1335" r="6"/><circle class="g" cx="583" cy="1352" r="6"/><circle class="g" cx="573" cy="1362" r="6"/><circle class="g" cx="578" cy="1375" r="6"/>
<line class="mg" x1="566" y1="1314" x2="590" y2="1314"/>
<circle class="u" cx="605" cy="1390" r="6"/><circle class="u" cx="611" cy="1391" r="6"/><circle class="u" cx="617" cy="1390" r="6"/><circle class="u" cx="608" cy="1393" r="6"/><circle class="u" cx="614" cy="1393" r="6"/>
</g>

<!-- Legend h -->
<text class="l" x="665" y="1160">Pre-treatment:</text>
<circle class="o" cx="673" cy="1176" r="6"/><text class="l" x="686" y="1183">Non</text>
<circle class="g" cx="673" cy="1199" r="6"/><text class="l" x="686" y="1206">Isotype</text>
<circle class="u" cx="673" cy="1222" r="6"/><text class="l" x="686" y="1229">Clone D1</text>
<line class="ax" x1="772" y1="1192" x2="772" y2="1235"/>
<text class="l" x="780" y="1219">ConA</text>

<!-- i1 -->
<g>
<line class="ax" x1="995" y1="1153" x2="995" y2="1402"/><line class="ax" x1="995" y1="1402" x2="1105" y2="1402"/>
<text class="t" x="988" y="1159" text-anchor="end">1,500</text><text class="t" x="988" y="1242" text-anchor="end">1,000</text><text class="t" x="988" y="1325" text-anchor="end">500</text><text class="t" x="988" y="1408" text-anchor="end">0</text>
<text class="l" transform="translate(925,1277) rotate(-90)" text-anchor="middle">Serum IL-18 (pg ml<tspan font-size="11" dy="-6">−1</tspan><tspan dy="6">)</tspan></text>
<path class="ax" d="M1052,1154 V1144 H1085 V1154"/><text class="p" x="1066" y="1139" text-anchor="middle">0.0432</text>
<circle class="o" cx="1013" cy="1323" r="6"/><circle class="o" cx="1023" cy="1324" r="6"/><circle class="o" cx="1018" cy="1355" r="6"/>
<line class="mk" x1="1006" y1="1330" x2="1030" y2="1330"/>
<circle class="g" cx="1051" cy="1168" r="6"/><circle class="g" cx="1052" cy="1236" r="6"/><circle class="g" cx="1058" cy="1251" r="6"/><circle class="g" cx="1046" cy="1270" r="6"/><circle class="g" cx="1056" cy="1286" r="6"/><circle class="g" cx="1048" cy="1294" r="6"/><circle class="g" cx="1054" cy="1311" r="6"/><circle class="g" cx="1052" cy="1333" r="6"/>
<line class="mg" x1="1040" y1="1257" x2="1064" y2="1257"/>
<circle class="u" cx="1085" cy="1220" r="6"/><circle class="u" cx="1081" cy="1275" r="6"/><circle class="u" cx="1090" cy="1287" r="6"/><circle class="u" cx="1078" cy="1298" r="6"/><circle class="u" cx="1088" cy="1299" r="6"/><circle class="u" cx="1083" cy="1310" r="6"/><circle class="u" cx="1087" cy="1319" r="6"/><circle class="u" cx="1084" cy="1338" r="6"/><circle class="u" cx="1082" cy="1344" r="6"/>
<line class="mu" x1="1073" y1="1299" x2="1097" y2="1299"/>
</g>

<!-- i2 -->
<g>
<line class="ax" x1="1237" y1="1150" x2="1237" y2="1400"/><line class="ax" x1="1237" y1="1400" x2="1345" y2="1400"/>
<text class="t" x="1230" y="1156" text-anchor="end">1,000</text><text class="t" x="1230" y="1206" text-anchor="end">800</text><text class="t" x="1230" y="1256" text-anchor="end">600</text><text class="t" x="1230" y="1306" text-anchor="end">400</text><text class="t" x="1230" y="1356" text-anchor="end">200</text><text class="t" x="1230" y="1406" text-anchor="end">0</text>
<text class="l" transform="translate(1174,1277) rotate(-90)" text-anchor="middle">Serum HMGB1 (ng ml<tspan font-size="11" dy="-6">−1</tspan><tspan dy="6">)</tspan></text>
<path class="ax" d="M1292,1154 V1144 H1325 V1154"/><text class="p" x="1309" y="1139" text-anchor="middle">0.0096</text>
<circle class="o" cx="1262" cy="1353" r="6"/><circle class="o" cx="1256" cy="1358" r="6"/><circle class="o" cx="1263" cy="1364" r="6"/><circle class="o" cx="1254" cy="1370" r="6"/><circle class="o" cx="1260" cy="1375" r="6"/>
<circle class="g" cx="1291" cy="1170" r="6"/><circle class="g" cx="1286" cy="1188" r="6"/><circle class="g" cx="1298" cy="1195" r="6"/><circle class="g" cx="1289" cy="1202" r="6"/><circle class="g" cx="1297" cy="1212" r="6"/><circle class="g" cx="1286" cy="1225" r="6"/><circle class="g" cx="1296" cy="1238" r="6"/><circle class="g" cx="1289" cy="1251" r="6"/><circle class="g" cx="1292" cy="1268" r="6"/><circle class="g" cx="1292" cy="1304" r="6"/>
<line class="mg" x1="1280" y1="1228" x2="1304" y2="1228"/>
<circle class="u" cx="1324" cy="1227" r="6"/><circle class="u" cx="1320" cy="1242" r="6"/><circle class="u" cx="1328" cy="1257" r="6"/><circle class="u" cx="1319" cy="1262" r="6"/><circle class="u" cx="1330" cy="1266" r="6"/><circle class="u" cx="1322" cy="1272" r="6"/><circle class="u" cx="1327" cy="1279" r="6"/><circle class="u" cx="1324" cy="1290" r="6"/><circle class="u" cx="1325" cy="1330" r="6"/>
<line class="mu" x1="1313" y1="1268" x2="1337" y2="1268"/>
</g>

<!-- Legend i -->
<text class="l" x="1375" y="1160">Pre-treatment:</text>
<circle class="o" cx="1383" cy="1175" r="6"/><text class="l" x="1397" y="1182">Non</text>
<circle class="g" cx="1383" cy="1198" r="6"/><text class="l" x="1397" y="1205">Isotype</text>
<circle class="u" cx="1383" cy="1221" r="6"/><text class="l" x="1397" y="1228">Clone D1</text>
<line class="ax" x1="1485" y1="1192" x2="1485" y2="1235"/>
<text class="l" x="1495" y="1219">ConA</text>
</svg>
</body></html>
